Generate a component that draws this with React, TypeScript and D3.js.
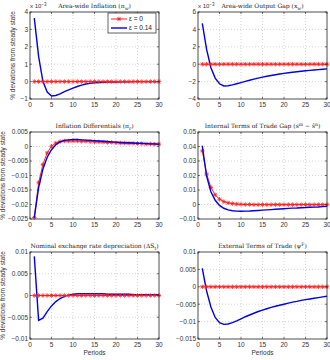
import React from 'react';
import * as d3 from 'd3';

const periods = d3.range(1, 31);
const xTicks = [0, 5, 10, 15, 20, 25, 30];

// epsilon = 0 (red, stars)
const zeroPath = [0, 0, 0, 0, 0, 0, 0, 0, 0, 0, 0, 0, 0, 0, 0, 0, 0, 0, 0, 0, 0, 0, 0, 0, 0, 0, 0, 0, 0, 0];
const redPiR = [-0.0245, -0.0125, -0.0062, -0.0022, 0.0001, 0.0012, 0.0017, 0.0019, 0.0019, 0.0019, 0.0019, 0.0018, 0.0018, 0.0017, 0.0016, 0.0016, 0.0015, 0.0014, 0.0014, 0.0013, 0.0012, 0.0012, 0.0011, 0.0011, 0.001, 0.001, 0.0009, 0.0009, 0.0008, 0.0008];
const redTot = [0.037, 0.021, 0.0118, 0.0066, 0.0037, 0.002, 0.0011, 0.0006, 0.0003, 0.0001, 0, 0, -0.0001, -0.0001, -0.0001, -0.0001, -0.0001, -0.0001, -0.0001, -0.0001, -0.0001, -0.0001, -0.0001, -0.0001, -0.0001, -0.0001, -0.0001, -0.0001, -0.0001, -0.0001];

// epsilon = 0.14 (blue)
const bluePiW = [3.65, 1.45, 0.02, -0.6, -0.83, -0.8, -0.7, -0.58, -0.47, -0.37, -0.28, -0.2, -0.14, -0.1, -0.07, -0.05, -0.04, -0.03, -0.02, -0.02, -0.01, -0.01, -0.01, 0, 0, 0, 0, 0, 0, 0];
const blueXW = [4.7, 1.7, -0.4, -1.6, -2.25, -2.5, -2.48, -2.38, -2.25, -2.11, -1.98, -1.85, -1.72, -1.6, -1.49, -1.39, -1.3, -1.21, -1.13, -1.05, -0.99, -0.93, -0.87, -0.81, -0.76, -0.71, -0.66, -0.62, -0.58, -0.54];
const bluePiR = [-0.0245, -0.0142, -0.0078, -0.0037, -0.0011, 0.0006, 0.0016, 0.0021, 0.0023, 0.0024, 0.0024, 0.0023, 0.0022, 0.0021, 0.002, 0.0019, 0.0018, 0.0017, 0.0016, 0.0015, 0.0014, 0.0013, 0.0013, 0.0012, 0.0011, 0.0011, 0.001, 0.0009, 0.0009, 0.0008];
const blueTot = [0.0405, 0.0195, 0.0088, 0.0029, -0.0006, -0.0026, -0.0037, -0.0043, -0.0046, -0.0047, -0.0046, -0.0045, -0.0043, -0.0041, -0.0039, -0.0037, -0.0035, -0.0033, -0.0031, -0.0029, -0.0027, -0.0025, -0.0024, -0.0022, -0.0021, -0.0019, -0.0018, -0.0017, -0.0015, -0.0013];
const blueDS = [0.009, -0.0057, -0.0052, -0.0037, -0.0024, -0.0014, -0.0007, -0.0002, 0.0001, 0.0003, 0.0004, 0.0004, 0.0004, 0.0004, 0.0004, 0.0004, 0.0004, 0.0003, 0.0003, 0.0003, 0.0003, 0.0003, 0.0003, 0.0002, 0.0002, 0.0002, 0.0002, 0.0002, 0.0002, 0.0002];
const bluePsi = [0.0053, -0.0012, -0.0058, -0.0088, -0.0103, -0.0108, -0.0107, -0.0103, -0.0098, -0.0092, -0.0086, -0.0081, -0.0076, -0.0071, -0.0067, -0.0063, -0.0059, -0.0056, -0.0053, -0.005, -0.0047, -0.0044, -0.0042, -0.0039, -0.0037, -0.0035, -0.0033, -0.0031, -0.0029, -0.0027];

const ticks1 = [-1, 0, 1, 2, 3, 4];
const ticks2 = [-4, -2, 0, 2, 4, 6];
const ticks3 = [-0.025, -0.02, -0.015, -0.01, -0.005, 0, 0.005];
const ticks4 = [-0.01, 0, 0.01, 0.02, 0.03, 0.04, 0.05];
const ticks5 = [-0.01, -0.005, 0, 0.005, 0.01];
const ticks6 = [-0.015, -0.01, -0.005, 0, 0.005, 0.01];

const legendLabels = ['\u03b5 = 0', '\u03b5 = 0.14'];

const RED = '#ff2020';
const BLUE = '#0000e0';
const SANS = 'Liberation Sans, Arial, sans-serif';
const SERIF = 'DejaVu Serif, Liberation Serif, serif';

const cols = [30, 198];
const rows = [12, 132, 252];
const W = 129;
const H = 87;

const starPath = (r: number) => {
  const d = r * 0.72;
  return `M${-r},0L${r},0M0,${-r}L0,${r}M${-d},${-d}L${d},${d}M${-d},${d}L${d},${-d}`;
};

const fmt = (v: number) => (v < 0 ? '\u2212' + String(-v) : String(v));

type PanelProps = {
  x0: number;
  y0: number;
  ticks: number[];
  red: number[];
  blue: number[];
  title: React.ReactNode;
  ylabel?: boolean;
  ylabelX?: number;
  xlabel?: boolean;
  expo?: boolean;
  legend?: boolean;
  redOnTop?: boolean;
};

const Panel = ({ x0, y0, ticks, red, blue, title, ylabel, ylabelX, xlabel, expo, legend, redOnTop }: PanelProps) => {
  const x = d3.scaleLinear().domain([0, 30]).range([x0, x0 + W]);
  const y = d3.scaleLinear().domain([ticks[0], ticks[ticks.length - 1]]).range([y0 + H, y0]);
  const line = d3.line<number>().x((_, i) => x(periods[i])).y(d => y(d));

  const redEl = (
    <g>
      <path d={line(red) || ''} fill="none" stroke={RED} strokeWidth={1} />
      {red.map((v, i) => (
        <path key={i} d={starPath(2.2)} transform={`translate(${x(periods[i])},${y(v)})`} stroke={RED} strokeWidth={0.8} fill="none" />
      ))}
    </g>
  );
  const blueEl = <path d={line(blue) || ''} fill="none" stroke={BLUE} strokeWidth={1.4} />;

  return (
    <g>
      {/* grid */}
      {xTicks.slice(1, -1).map(t => (
        <line key={'gx' + t} x1={x(t)} x2={x(t)} y1={y0} y2={y0 + H} stroke="#b8b8b8" strokeWidth={0.6} strokeDasharray="1,2" />
      ))}
      {ticks.slice(1, -1).map(t => (
        <line key={'gy' + t} x1={x0} x2={x0 + W} y1={y(t)} y2={y(t)} stroke="#b8b8b8" strokeWidth={0.6} strokeDasharray="1,2" />
      ))}
      {redOnTop ? <>{blueEl}{redEl}</> : <>{redEl}{blueEl}</>}
      {/* frame */}
      <rect x={x0} y={y0} width={W} height={H} fill="none" stroke="#222" strokeWidth={0.8} />
      {/* ticks */}
      {xTicks.map(t => (
        <g key={'tx' + t}>
          <line x1={x(t)} x2={x(t)} y1={y0 + H} y2={y0 + H - 2} stroke="#222" strokeWidth={0.6} />
          <line x1={x(t)} x2={x(t)} y1={y0} y2={y0 + 2} stroke="#222" strokeWidth={0.6} />
          <text x={x(t)} y={y0 + H + 8} textAnchor="middle" fontSize={6.5} fontFamily={SANS} fill="#333">{t}</text>
        </g>
      ))}
      {ticks.map(t => (
        <g key={'ty' + t}>
          <line x1={x0} x2={x0 + 2} y1={y(t)} y2={y(t)} stroke="#222" strokeWidth={0.6} />
          <line x1={x0 + W} x2={x0 + W - 2} y1={y(t)} y2={y(t)} stroke="#222" strokeWidth={0.6} />
          <text x={x0 - 2} y={y(t) + 2.3} textAnchor="end" fontSize={6.5} fontFamily={SANS} fill="#333">{fmt(t)}</text>
        </g>
      ))}
      <text x={x0 + W / 2} y={y0 - 4} textAnchor="middle" fontSize={6} fontFamily={SERIF} fill="#222">{title}</text>
      {expo && (
        <text x={x0} y={y0 - 4} fontSize={6} fontFamily={SANS} fill="#333">
          x 10<tspan dy={-2.5} fontSize={4.5}>{'\u22123'}</tspan>
        </text>
      )}
      {ylabel && (
        <text transform={`translate(${ylabelX},${y0 + H / 2}) rotate(-90)`} textAnchor="middle" fontSize={6.5} fontFamily={SANS} fill="#333">
          % deviations from steady state
        </text>
      )}
      {xlabel && (
        <text x={x0 + W / 2} y={y0 + H + 16} textAnchor="middle" fontSize={6.5} fontFamily={SANS} fill="#333">Periods</text>
      )}
      {legend && (
        <g>
          <rect x={108} y={13} width={48} height={20} fill="#fff" stroke="#222" strokeWidth={0.7} />
          <line x1={111} x2={127} y1={19} y2={19} stroke={RED} strokeWidth={1} />
          <path d={starPath(2.2)} transform="translate(119,19)" stroke={RED} strokeWidth={0.8} fill="none" />
          <text x={129} y={21.3} fontSize={6.5} fontFamily={SANS} fill="#222">{legendLabels[0]}</text>
          <line x1={111} x2={127} y1={28} y2={28} stroke={BLUE} strokeWidth={1.4} />
          <text x={129} y={30.3} fontSize={6.5} fontFamily={SANS} fill="#222">{legendLabels[1]}</text>
        </g>
      )}
    </g>
  );
};

const sub = (s: string) => <tspan dy={1.5} fontSize={4.5}>{s}</tspan>;
const sup = (s: string) => <tspan dy={-2.2} fontSize={4.5}>{s}</tspan>;

export default function App() {
  return (
    <svg width={330} height={360} style={{ position: 'absolute', left: 0, top: 0, background: '#fff' }}>
      <Panel x0={cols[0]} y0={rows[0]} ticks={ticks1} red={zeroPath} blue={bluePiW} expo legend ylabel ylabelX={15}
        title={<>Area-wide Inflation ({'\u03c0'}{sub('w')}<tspan dy={-1.5}>)</tspan></>} redOnTop />
      <Panel x0={cols[1]} y0={rows[0]} ticks={ticks2} red={zeroPath} blue={blueXW} expo
        title={<>Area-wide Output Gap (x{sub('w')}<tspan dy={-1.5}>)</tspan></>} redOnTop />
      <Panel x0={cols[0]} y0={rows[1]} ticks={ticks3} red={redPiR} blue={bluePiR} ylabel ylabelX={5}
        title={<>Inflation Differentials ({'\u03c0'}{sub('r')}<tspan dy={-1.5}>)</tspan></>} />
      <Panel x0={cols[1]} y0={rows[1]} ticks={ticks4} red={redTot} blue={blueTot}
        title={<>Internal Terms of Trade Gap (s{sup('m')}<tspan dy={2.2}> {'\u2212'} {'s\u0302'}</tspan>{sup('n')}<tspan dy={2.2}>)</tspan></>} />
      <Panel x0={cols[0]} y0={rows[2]} ticks={ticks5} red={zeroPath} blue={blueDS} ylabel ylabelX={5} xlabel
        title={<>Nominal exchange rate depreciation ({'\u0394'}S{sub('t')}<tspan dy={-1.5}>)</tspan></>} redOnTop />
      <Panel x0={cols[1]} y0={rows[2]} ticks={ticks6} red={zeroPath} blue={bluePsi} xlabel
        title={<>External Terms of Trade ({'\u03c8'}{sup('F')}<tspan dy={2.2}>)</tspan></>} redOnTop />
    </svg>
  );
}
